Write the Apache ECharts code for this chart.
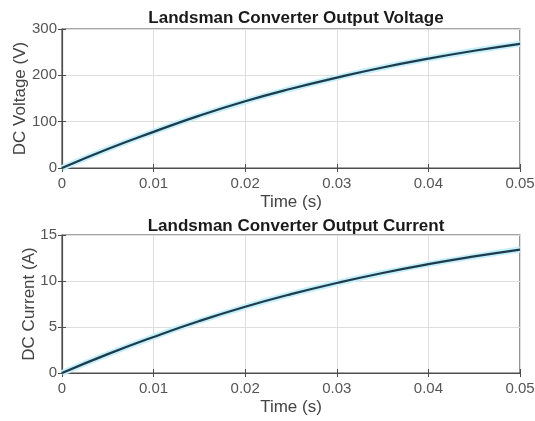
<!DOCTYPE html>
<html><head><meta charset="utf-8">
<script src="https://cdn.jsdelivr.net/npm/echarts@6/dist/echarts.min.js"></script>
<style>html,body{margin:0;padding:0;background:#fff}#c{width:535px;height:421px}</style>
</head><body><div id="c"></div>
<script>
const time = [0,0.005,0.01,0.015,0.02,0.025,0.03,0.035,0.04,0.045,0.05];
const voltage = [0,41,78,113,144,171,195,217,236,253,268];
const current = [0,2.05,3.92,5.65,7.2,8.57,9.78,10.87,11.83,12.67,13.42];
const xTicks = [0,0.01,0.02,0.03,0.04,0.05];
const vTicks = [0,100,200,300];
const iTicks = [0,5,10,15];
const titles = ['Landsman Converter Output Voltage','Landsman Converter Output Current'];
const yNames = ['DC Voltage (V)','DC Current (A)'];

const font = 'Liberation Sans, Arial, sans-serif';
const axisCol = '#4d4d4d';
const nameGaps = [33,24];
const grids = [
  {left:62,right:15,top:29,height:139,show:true,borderColor:axisCol,borderWidth:1.2,containLabel:false,outerBoundsMode:'none'},
  {left:62,right:15,top:235,height:138,show:true,borderColor:axisCol,borderWidth:1.2,containLabel:false,outerBoundsMode:'none'}
];
function xAxis(g){
  return {type:'value',gridIndex:g,min:xTicks[0],max:xTicks[xTicks.length-1],interval:0.01,
    name:'Time (s)',nameLocation:'middle',nameGap:26,nameMoveOverlap:false,
    nameTextStyle:{fontFamily:font,fontSize:17,color:'#444'},
    axisLine:{show:true,lineStyle:{color:axisCol,width:1.2}},
    axisTick:{show:true,inside:true,length:4,lineStyle:{color:axisCol}},
    axisLabel:{fontFamily:font,fontSize:15,color:'#555',margin:8,formatter:v=>String(+v.toFixed(2))},
    splitLine:{show:true,lineStyle:{color:'#dedede',width:1}}};
}
function xTop(g){
  return {type:'value',gridIndex:g,position:'top',min:xTicks[0],max:xTicks[xTicks.length-1],interval:0.01,
    axisLine:{show:false},axisTick:{show:true,inside:true,length:4,lineStyle:{color:axisCol}},
    axisLabel:{show:false},splitLine:{show:false}};
}
function yAxis(g,ticks){
  return {type:'value',gridIndex:g,min:ticks[0],max:ticks[ticks.length-1],interval:ticks[1]-ticks[0],
    name:yNames[g],nameLocation:'middle',nameGap:nameGaps[g],nameMoveOverlap:false,
    nameTextStyle:{fontFamily:font,fontSize:17,color:'#444'},
    axisLine:{show:true,lineStyle:{color:axisCol,width:1.2}},
    axisTick:{show:true,inside:true,length:4,lineStyle:{color:axisCol}},
    axisLabel:{fontFamily:font,fontSize:15,color:'#555',margin:5},
    splitLine:{show:true,lineStyle:{color:'#dedede',width:1}}};
}
function yRight(g,ticks){
  return {type:'value',gridIndex:g,position:'right',min:ticks[0],max:ticks[ticks.length-1],interval:ticks[1]-ticks[0],
    axisLine:{show:false},axisTick:{show:true,inside:true,length:4,lineStyle:{color:axisCol}},
    axisLabel:{show:false},splitLine:{show:false}};
}
function pairs(ys){return time.map((t,i)=>[t,ys[i]]);}
const opt = {
  animation:false,
  title: titles.map((t,i)=>({text:t,left:291,textAlign:'center',top:i===0?5:213,
    textStyle:{fontFamily:font,fontSize:17,fontWeight:'bold',color:'#1a1a1a'}})),
  grid: grids,
  xAxis:[xAxis(0),xAxis(1),xTop(0),xTop(1)],
  yAxis:[yAxis(0,vTicks),yAxis(1,iTicks),yRight(0,vTicks),yRight(1,iTicks)],
  series:[
    {type:'line',xAxisIndex:0,yAxisIndex:0,data:pairs(voltage),smooth:true,symbol:'none',lineStyle:{color:'#c4effb',width:6}},
    {type:'line',xAxisIndex:0,yAxisIndex:0,data:pairs(voltage),smooth:true,symbol:'none',lineStyle:{color:'#1d3b4a',width:2.2}},
    {type:'line',xAxisIndex:1,yAxisIndex:1,data:pairs(current),smooth:true,symbol:'none',lineStyle:{color:'#c4effb',width:6}},
    {type:'line',xAxisIndex:1,yAxisIndex:1,data:pairs(current),smooth:true,symbol:'none',lineStyle:{color:'#1d3b4a',width:2.2}}
  ]
};
echarts.init(document.getElementById('c')).setOption(opt);
</script></body></html>
